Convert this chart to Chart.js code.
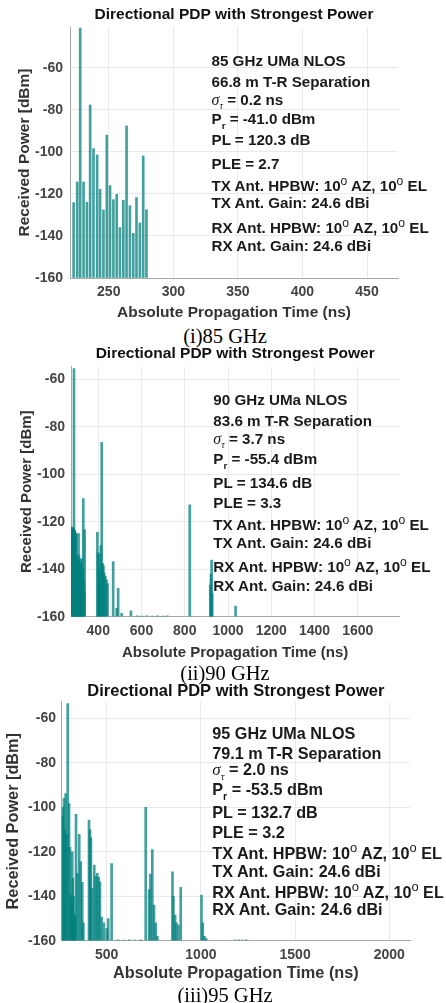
<!DOCTYPE html>
<html><head><meta charset="utf-8">
<script src="https://cdn.jsdelivr.net/npm/chart.js@4.4.1/dist/chart.umd.min.js"></script>
<style>
html,body{margin:0;padding:0;background:#fff;}
body{width:446px;height:1003px;overflow:hidden;position:relative;}
.panel{position:absolute;left:0;width:446px;}
.panel canvas{position:absolute;left:0;top:0;}
.note{position:absolute;font-family:'Liberation Sans',Arial,sans-serif;font-weight:bold;color:#1a1a1a;white-space:nowrap;line-height:1;transform:translateY(-50%);}
.note sub,.note sup{line-height:0;}
.note sub{font-size:0.65em;vertical-align:-0.45em;}
.note sup{font-size:0.8em;vertical-align:0.5em;font-weight:normal;}
.sig{font-family:'Liberation Serif','Times New Roman',serif;font-style:italic;font-weight:normal;font-size:1.05em;}
.tau{font-family:'Liberation Serif','Times New Roman',serif;font-style:italic;font-weight:normal;}
.cap{position:absolute;font-family:'Liberation Serif','Times New Roman',serif;font-size:20.5px;color:#000;white-space:nowrap;transform:translate(-50%,-50%);line-height:1;}
</style></head><body>
<div id="p1" class="panel" style="top:0px"><canvas id="c1"></canvas></div>
<div id="p2" class="panel" style="top:340px"><canvas id="c2"></canvas></div>
<div id="p3" class="panel" style="top:676px"><canvas id="c3"></canvas></div>
<script>
// ---------- DATA ----------
const p1Times  = [222.8,225.6,227.9,230.5,233.1,235.6,238.2,241.0,243.3,245.9,248.5,251.0,253.6,256.2,258.7,261.3,263.8,266.4,269.0,271.5,274.1,276.7,279.2];
const p1Powers = [-124.1,-114.3,-41.0,-114.3,-124.0,-77.6,-98.4,-101.4,-117.8,-127.6,-92.0,-116.0,-122.7,-120.2,-136.0,-123.0,-87.6,-125.6,-138.7,-121.7,-133.8,-101.9,-127.5];

const p2Times  = [275,277,279,281,283,285,287.8,290,292,294,296,298,300,302,304,306,309,311,313,315,318,320,323,325,327.7,330.8,333,335,337,
                  396,399,402,405,408,412,416,420,424,428,433,438,443,469,485,492,508,551,
                  580,600,625,650,675,700,720,823,918,921,924,927,1035];
const p2Powers = [-122.5,-124,-122.3,-123,-125,-122.8,-55.5,-124,-123.5,-126,-125,-125,-134,-136,-135,-138,-125,-134,-139,-136,-138,-137,-135.5,-141,-139.7,-110.3,-145,-150,-123.4,
                  -124.5,-133,-146.7,-133.5,-140,-130,-86.6,-137.5,-138.5,-141.5,-143,-144.5,-146,-136.8,-156.5,-148,-158.6,-157.5,
                  -159.6,-159.7,-159.6,-159.7,-159.6,-159.7,-159.6,-112.9,-146.7,-142,-136.2,-150,-155.5];

const p3Times  = [264,268,273,277,282,287,293,300,305,310,314,317,320,324,328,332,337,344,354,362,370,376,
                  406,411,416,423,434,441,450,457,464,473,485,500,508,526,
                  560,590,620,650,680,707,725,732,742,751,760,769,849,854,863,870,881,893,
                  1003,1010,1019,1028,1180,1200,1220,1240];
const p3Powers = [-104.3,-100,-96,-110,-93.8,-112,-53.3,-98.3,-118,-139.5,-143,-120,-132,-140,-148,-149,-103.2,-129.7,-112.2,-124.5,-133.8,-152,
                  -105.7,-110,-113.7,-136.3,-126,-131,-129.7,-131.5,-133.5,-149.5,-152,-154.5,-150,-125.3,
                  -159.6,-159.7,-159.6,-159.7,-159.6,-100,-137,-130,-119,-144,-152,-158,-129,-140,-148.5,-152,-153,-136,
                  -139.5,-152,-158,-159,-159.7,-159.6,-159.7,-159.6];

const p1XTicks = [250,300,350,400,450];
const p2XTicks = [400,600,800,1000,1200,1400,1600];
const p3XTicks = [500,1000,1500,2000];
const yTicks   = [-160,-140,-120,-100,-80,-60];

const chartTitle = 'Directional PDP with Strongest Power';
const xLabel = 'Absolute Propagation Time (ns)';
const yLabel = 'Received Power [dBm]';

const notes1 = ['85 GHz UMa NLOS','66.8 m T-R Separation','<span class="sig">σ</span><sub class="tau">τ</sub> = 0.2 ns','P<sub>r</sub> = -41.0 dBm','PL = 120.3 dB','PLE = 2.7',
  'TX Ant. HPBW: 10<sup>o</sup> AZ, 10<sup>o</sup> EL','TX Ant. Gain: 24.6 dBi','RX Ant. HPBW: 10<sup>o</sup> AZ, 10<sup>o</sup> EL','RX Ant. Gain: 24.6 dBi'];
const notes2 = ['90 GHz UMa NLOS','83.6 m T-R Separation','<span class="sig">σ</span><sub class="tau">τ</sub> = 3.7 ns','P<sub>r</sub> = -55.4 dBm','PL = 134.6 dB','PLE = 3.3',
  'TX Ant. HPBW: 10<sup>o</sup> AZ, 10<sup>o</sup> EL','TX Ant. Gain: 24.6 dBi','RX Ant. HPBW: 10<sup>o</sup> AZ, 10<sup>o</sup> EL','RX Ant. Gain: 24.6 dBi'];
const notes3 = ['95 GHz UMa NLOS','79.1 m T-R Separation','<span class="sig">σ</span><sub class="tau">τ</sub> = 2.0 ns','P<sub>r</sub> = -53.5 dBm','PL = 132.7 dB','PLE = 3.2',
  'TX Ant. HPBW: 10<sup>o</sup> AZ, 10<sup>o</sup> EL','TX Ant. Gain: 24.6 dBi','RX Ant. HPBW: 10<sup>o</sup> AZ, 10<sup>o</sup> EL','RX Ant. Gain: 24.6 dBi'];
const captions = ['(i)85 GHz','(ii)90 GHz','(iii)95 GHz'];

// ---------- LAYOUT (pixels, relative to each panel) ----------
const L1 = {xMin:220, xMax:474, yMax:-40.5, titleFs:15.5, axisFs:15.5, tickFs:14, titleY:15, plotTop:27, plotBottom:278, plotLeft:70, plotRight:398, xTitleY:313, yTitleX:25, xTickPad:6, yTickPad:7,
  noteX:211.5, noteFs:15.2, noteY:[60.7,81.5,99.5,119.3,140,164,186,203.3,228.3,245.7], capY:336};
const L2 = {xMin:274, xMax:1792, yMax:-54.7, titleFs:15.5, axisFs:15, tickFs:14, titleY:14, plotTop:26.7, plotBottom:276.7, plotLeft:71, plotRight:399.3, xTitleY:313.3, yTitleX:26.7, xTickPad:6, yTickPad:6,
  noteX:213.3, noteFs:15.2, noteY:[60,81,99,119,142.7,163.3,185,203.3,226.7,245.7], capY:332.5};
const L3 = {xMin:261, xMax:2110, yMax:-52.5, titleFs:16.5, axisFs:16.3, tickFs:14, titleY:15, plotTop:25.7, plotBottom:264.7, plotLeft:61.7, plotRight:410, xTitleY:297.3, yTitleX:14, xTickPad:6, yTickPad:5.7,
  noteX:212.3, noteFs:16.2, noteY:[57.3,77.3,94,113.3,136.3,156.3,176.7,194.7,215.7,233.3], capY:319};

Chart.defaults.font.family = "'Liberation Sans', Arial, sans-serif";

function makePanel(panelId, canvasId, times, powers, xTicks, L, notes, caption) {
  const lh = L.axisFs * 1.2;
  const xScaleBottom = L.xTitleY + lh / 2;
  const H = Math.ceil(xScaleBottom);
  const padL = L.yTitleX - lh / 2;
  const tlh = L.titleFs * 1.2;
  const cv = document.getElementById(canvasId);
  cv.width = 446; cv.height = H;
  cv.style.width = '446px'; cv.style.height = H + 'px';
  const pts = times.map((t, i) => ({x: t, y: powers[i]}));
  new Chart(cv, {
    type: 'bar',
    data: {datasets: [{data: pts, base: -160, barThickness: 2, grouped: false,
      backgroundColor: 'rgba(0,128,126,0.74)', borderWidth: 0}]},
    options: {
      responsive: false, animation: false, devicePixelRatio: 1,
      layout: {padding: {left: padL, right: 446 - L.plotRight, top: 0, bottom: H - xScaleBottom}},
      plugins: {
        legend: {display: false}, tooltip: {enabled: false},
        title: {display: true, text: chartTitle, fullSize: false, color: '#111',
          font: {size: L.titleFs, weight: 'bold'},
          padding: {top: L.titleY - tlh / 2, bottom: L.plotTop - (L.titleY + tlh / 2)}}
      },
      scales: {
        x: {type: 'linear', min: L.xMin, max: L.xMax, offset: false,
          grid: {color: '#e9e9e9', drawTicks: false, offset: false},
          border: {display: true, color: '#a8a8a8', width: 1},
          ticks: {padding: L.xTickPad, color: '#444', font: {size: L.tickFs, weight: 'bold'}, maxRotation: 0, autoSkip: false,
            callback: v => String(v)},
          title: {display: true, text: xLabel, color: '#333', font: {size: L.axisFs, weight: 'bold'}, padding: 0},
          afterBuildTicks: s => { s.ticks = xTicks.map(v => ({value: v})); },
          afterFit: s => { s.height = xScaleBottom - L.plotBottom; }
        },
        y: {type: 'linear', min: -160, max: L.yMax, beginAtZero: false,
          grid: {color: '#e9e9e9', drawTicks: false},
          border: {display: true, color: '#a8a8a8', width: 1},
          ticks: {padding: L.yTickPad, color: '#444', font: {size: L.tickFs, weight: 'bold'}, autoSkip: false,
            callback: v => String(v)},
          title: {display: true, text: yLabel, color: '#333', font: {size: L.axisFs, weight: 'bold'}, padding: 0},
          afterBuildTicks: s => { s.ticks = yTicks.map(v => ({value: v})); },
          afterFit: s => { s.width = L.plotLeft - padL; }
        }
      }
    }
  });
  const panel = document.getElementById(panelId);
  notes.forEach((html, i) => {
    const d = document.createElement('div');
    d.className = 'note';
    d.style.left = L.noteX + 'px';
    d.style.top = L.noteY[i] + 'px';
    d.style.fontSize = L.noteFs + 'px';
    d.innerHTML = html;
    panel.appendChild(d);
  });
  const c = document.createElement('div');
  c.className = 'cap';
  c.style.left = '225px';
  c.style.top = L.capY + 'px';
  c.textContent = caption;
  panel.appendChild(c);
}

makePanel('p1', 'c1', p1Times, p1Powers, p1XTicks, L1, notes1, captions[0]);
makePanel('p2', 'c2', p2Times, p2Powers, p2XTicks, L2, notes2, captions[1]);
makePanel('p3', 'c3', p3Times, p3Powers, p3XTicks, L3, notes3, captions[2]);
</script>
</body></html>
